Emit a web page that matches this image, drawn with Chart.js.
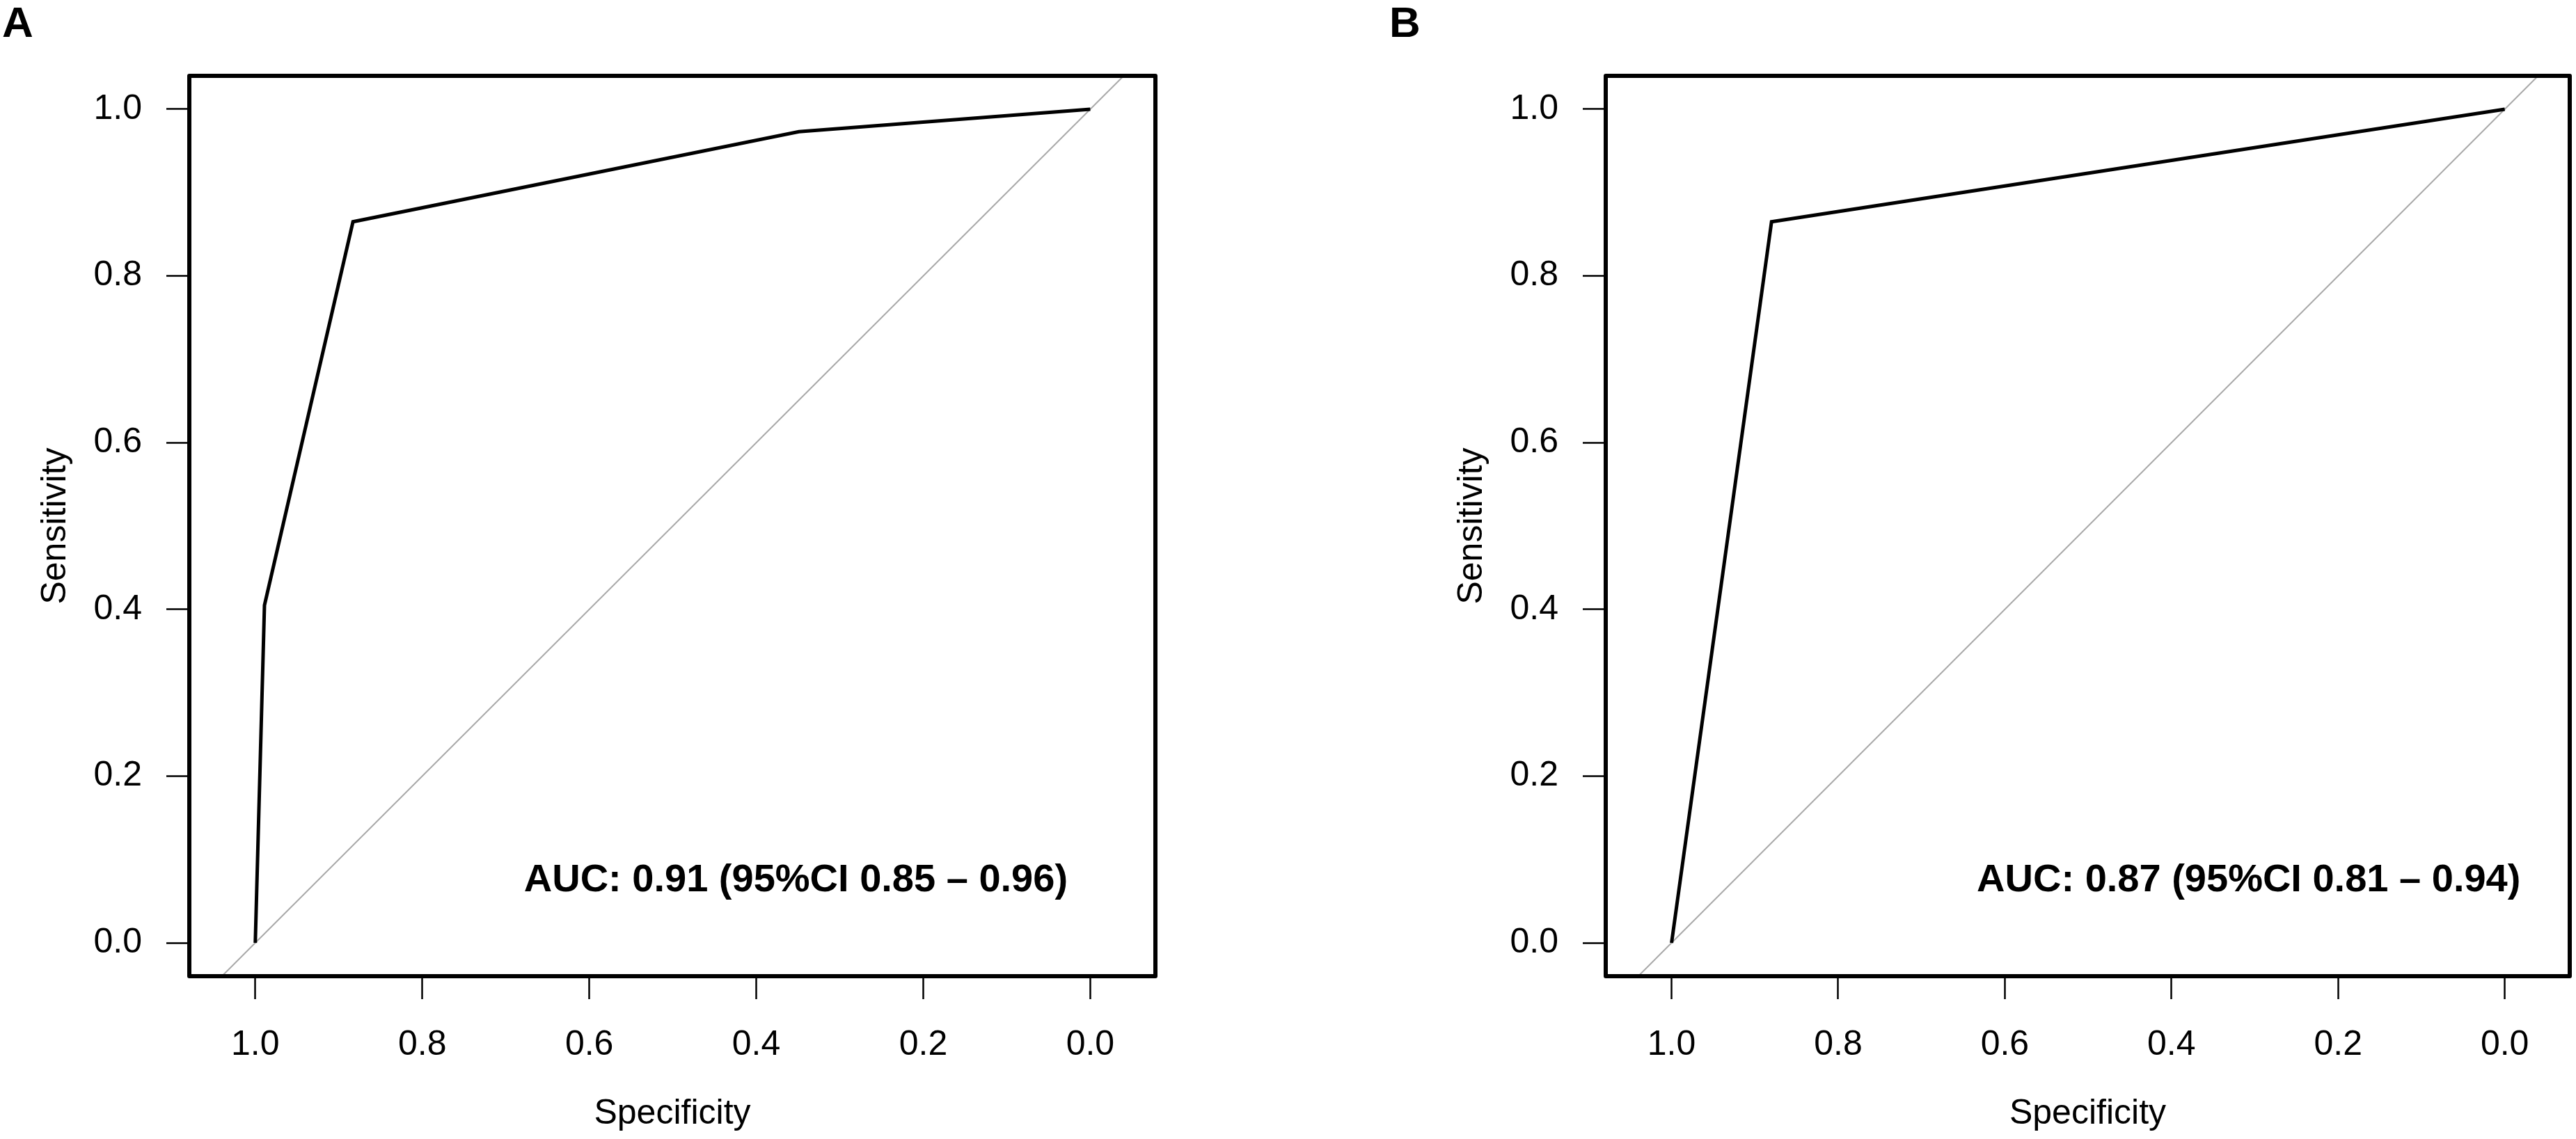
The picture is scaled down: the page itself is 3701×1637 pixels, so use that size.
<!DOCTYPE html>
<html>
<head>
<meta charset="utf-8">
<script src="https://cdn.jsdelivr.net/npm/chart.js@4.4.1/dist/chart.umd.min.js"></script>
<style>
  html, body { margin: 0; padding: 0; background: #fff; overflow: hidden; }
  canvas { position: absolute; top: 0; }
  #rocA { left: 0; }
  #rocB { left: 1850px; }
</style>
</head>
<body>
<canvas id="rocA" width="1850" height="1637"></canvas>
<canvas id="rocB" width="1851" height="1637"></canvas>
<script>
// ROC curve points (specificity runs 1 -> 0)
const specA = [1.0, 0.989, 0.883, 0.349, 0.0];
const sensA = [0.0, 0.405, 0.865, 0.973, 1.0];
const specB = [1.0, 0.88, 0.0];
const sensB = [0.0, 0.865, 1.0];

// chance line, clipped to the plot region like abline()
const diagSpec = [1.04, -0.04];
const diagSens = [-0.04, 1.04];

const axisTicks = [0, 0.2, 0.4, 0.6, 0.8, 1.0];

const aucA = 'AUC: 0.91 (95%CI 0.85 \u2013 0.96)';
const aucB = 'AUC: 0.87 (95%CI 0.81 \u2013 0.94)';

const FONT = '"Liberation Sans", Arial, Helvetica, sans-serif';

function toPoints(xs, ys) {
  return xs.map((x, i) => ({ x: x, y: ys[i] }));
}

// box round the plot, AUC text and panel letter
const panelDecor = {
  id: 'panelDecor',
  afterDraw(chart, args, opts) {
    const ctx = chart.ctx;
    const a = chart.chartArea;
    ctx.save();
    ctx.strokeStyle = '#000';
    ctx.lineWidth = 6;
    ctx.lineJoin = 'round';
    ctx.strokeRect(a.left, a.top, a.right - a.left, a.bottom - a.top);

    ctx.fillStyle = '#000';
    ctx.font = 'bold 56px ' + FONT;
    ctx.textAlign = 'right';
    ctx.textBaseline = 'alphabetic';
    ctx.fillText(opts.auc,
      chart.scales.x.getPixelForValue(opts.aucSpec),
      chart.scales.y.getPixelForValue(opts.aucSens));

    ctx.font = 'bold 62px ' + FONT;
    ctx.textAlign = 'left';
    ctx.fillText(opts.letter, opts.letterX, 53);
    ctx.restore();
  }
};

function rocChart(id, spec, sens, padLeft, padRight, decor) {
  const tickGrid = {
    drawOnChartArea: false,
    drawTicks: true,
    tickLength: 33,
    tickWidth: 2.5,
    tickColor: '#000',
    color: '#000'
  };
  return new Chart(document.getElementById(id), {
    type: 'scatter',
    data: {
      datasets: [
        {
          data: toPoints(spec, sens),
          showLine: true,
          borderColor: '#000',
          borderWidth: 5,
          pointRadius: 0,
          tension: 0
        },
        {
          data: toPoints(diagSpec, diagSens),
          showLine: true,
          borderColor: '#a8a8a8',
          borderWidth: 2,
          pointRadius: 0
        }
      ]
    },
    options: {
      responsive: false,
      animation: false,
      devicePixelRatio: 1,
      events: [],
      layout: { padding: { left: padLeft, right: padRight, top: 109, bottom: 2 } },
      plugins: {
        legend: { display: false },
        tooltip: { enabled: false },
        panelDecor: decor
      },
      scales: {
        x: {
          type: 'linear',
          reverse: true,
          min: -0.078,
          max: 1.079,
          afterBuildTicks: s => { s.ticks = axisTicks.map(v => ({ value: v })); },
          afterFit: s => { s.height = 232; },
          grid: tickGrid,
          border: { display: false },
          ticks: {
            color: '#000',
            font: { family: FONT, size: 50 },
            padding: 36,
            maxRotation: 0,
            autoSkip: false,
            callback: v => Number(v).toFixed(1)
          },
          title: {
            display: true,
            text: 'Specificity',
            color: '#000',
            font: { family: FONT, size: 50 },
            padding: { top: 0, bottom: 4 }
          }
        },
        y: {
          type: 'linear',
          min: -0.04,
          max: 1.04,
          afterBuildTicks: s => { s.ticks = axisTicks.map(v => ({ value: v })); },
          afterFit: s => { s.width = 226; },
          grid: tickGrid,
          border: { display: false },
          ticks: {
            color: '#000',
            font: { family: FONT, size: 50 },
            padding: 35,
            autoSkip: false,
            callback: v => Number(v).toFixed(1)
          },
          title: {
            display: true,
            text: 'Sensitivity',
            color: '#000',
            font: { family: FONT, size: 50 },
            padding: { top: 4, bottom: 0 }
          }
        }
      }
    },
    plugins: [panelDecor]
  });
}

rocChart('rocA', specA, sensA, 46, 190,
  { auc: aucA, aucSpec: 0.027, aucSens: 0.062, letter: 'A', letterX: 3 });
rocChart('rocB', specB, sensB, 231, 9,
  { auc: aucB, aucSpec: -0.019, aucSens: 0.062, letter: 'B', letterX: 146 });
</script>
</body>
</html>
